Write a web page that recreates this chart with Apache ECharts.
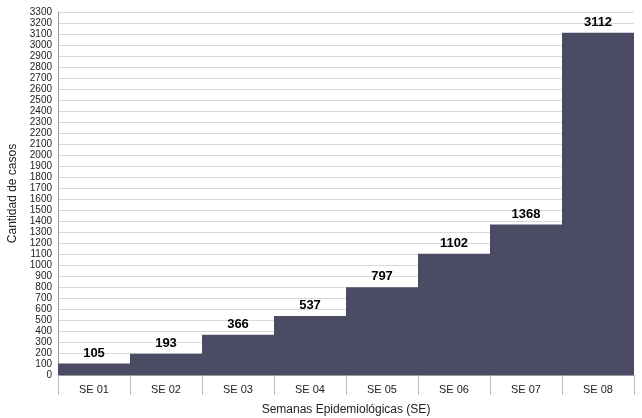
<!DOCTYPE html>
<html><head><meta charset="utf-8">
<script src="https://cdn.jsdelivr.net/npm/echarts@6/dist/echarts.min.js"></script>
<style>html,body{margin:0;padding:0;background:#fff}#c{width:642px;height:418px}</style>
</head><body><div id="c"></div>
<script>
const categories = ["SE 01","SE 02","SE 03","SE 04","SE 05","SE 06","SE 07","SE 08"];
const casos = [105,193,366,537,797,1102,1368,3112];
const chart = echarts.init(document.getElementById('c'));
chart.setOption({
  animation:false,
  grid:{left:58,right:8,top:12,bottom:43,containLabel:false,outerBoundsMode:'none'},
  xAxis:{type:'category',data:categories,
    name:'Semanas Epidemiológicas (SE)',nameLocation:'middle',nameGap:29,
    nameTextStyle:{fontFamily:'Liberation Sans',fontSize:12,color:'#222'},
    axisLine:{lineStyle:{color:'#999'}},
    axisTick:{show:true,length:20,lineStyle:{color:'#bbb'}},
    axisLabel:{fontFamily:'Liberation Sans',fontSize:11,color:'#222',margin:9}},
  yAxis:{type:'value',min:0,max:3300,interval:100,
    name:'Cantidad de casos',nameLocation:'middle',nameGap:38,
    nameTextStyle:{fontFamily:'Liberation Sans',fontSize:12,color:'#222'},
    axisLine:{show:true,lineStyle:{color:'#999'}},
    axisLabel:{fontFamily:'Liberation Sans',fontSize:10,color:'#222',margin:6,formatter:v=>String(v)},
    splitLine:{lineStyle:{color:'#d9d9d9'}}},
  series:[{type:'bar',data:casos,barCategoryGap:'0%',
    itemStyle:{color:'#4b4c63'},
    label:{show:true,position:'top',fontFamily:'Liberation Sans',fontWeight:'bold',fontSize:13,color:'#000',distance:4}}]
});
</script></body></html>
